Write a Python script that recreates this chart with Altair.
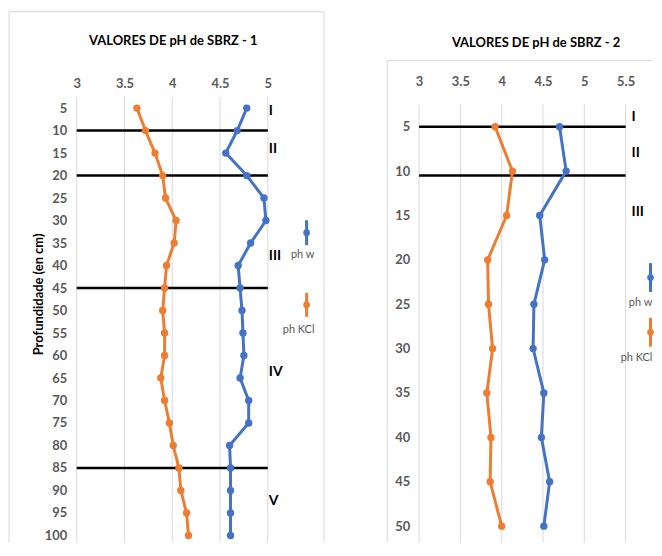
import altair as alt
import pandas as pd

FONT = "Lato"
GRAY = "#595959"
GRID = "#d9d9d9"

# ---------------- data ----------------
series = ["ph w", "ph KCl"]
colors = ["#4472C4", "#ED7D31"]

depth1 = [5, 10, 15, 20, 25, 30, 35, 40, 45, 50, 55, 60, 65, 70, 75, 80, 85, 90, 95, 100]
phw1 = [4.78, 4.68, 4.56, 4.78, 4.96, 4.98, 4.82, 4.69, 4.71, 4.73,
        4.74, 4.75, 4.71, 4.80, 4.80, 4.60, 4.61, 4.61, 4.61, 4.61]
phk1 = [3.63, 3.72, 3.82, 3.90, 3.93, 4.04, 4.02, 3.94, 3.92, 3.90,
        3.92, 3.92, 3.88, 3.92, 3.97, 4.01, 4.07, 4.09, 4.15, 4.17]

depth2 = [5, 10, 15, 20, 25, 30, 35, 40, 45, 50]
phw2 = [4.70, 4.78, 4.46, 4.52, 4.39, 4.38, 4.51, 4.48, 4.58, 4.51]
phk2 = [3.92, 4.13, 4.06, 3.83, 3.84, 3.89, 3.82, 3.87, 3.86, 4.00]

limits1 = [10, 20, 45, 85]
limits2 = [5, 10.5]

horizons1 = ["I", "II", "III", "IV", "V"]
horizon_depth1 = [5.75, 14.2, 37.8, 63.6, 92.3]
horizons2 = ["I", "II", "III"]
horizon_depth2 = [3.9, 8.0, 14.6]

xticks1 = [3, 3.5, 4, 4.5, 5]
xticks2 = [3, 3.5, 4, 4.5, 5, 5.5]

title1 = "VALORES DE pH de SBRZ - 1"
title2 = "VALORES DE pH de SBRZ - 2"
ytitle1 = "Profundidade (en cm)"


def long_df(depth, w, k):
    rows = []
    for d, v in zip(depth, w):
        rows.append({"depth": d, "pH": v, "serie": series[0]})
    for d, v in zip(depth, k):
        rows.append({"depth": d, "pH": v, "serie": series[1]})
    return pd.DataFrame(rows)


def panel(depth, w, k, limits, hz, hzd, xticks, xdom, ydom, gtop, gbot,
          W, H, title, title_xy, ytitle, label_pad_x, label_pad_y,
          frame, hz_dx, legend):
    df = long_df(depth, w, k)
    xs = alt.Scale(domain=xdom, nice=False, zero=False)
    ys = alt.Scale(domain=ydom, reverse=True, nice=False, zero=False)
    cs = alt.Scale(domain=series, range=colors)

    xaxis = alt.Axis(orient="top", values=xticks, format="~g", grid=False,
                     domain=False, ticks=False, labelFont=FONT, labelFontSize=13,
                     labelFontWeight="bold", labelColor=GRAY, labelFlush=False,
                     labelPadding=label_pad_x, title=None)
    yaxis_kw = dict(values=depth, grid=False, domain=False, ticks=False,
                    labelFont=FONT, labelFontSize=13, labelFontWeight="bold",
                    labelColor=GRAY, labelPadding=label_pad_y, labelFlush=False)
    if ytitle:
        yaxis = alt.Axis(title=ytitle, titleFont=FONT, titleFontSize=13,
                         titleFontWeight="bold", titleColor="black",
                         titleX=-38, titleY=198, titleAngle=-90,
                         titleBaseline="middle", titleAlign="center", **yaxis_kw)
    else:
        yaxis = alt.Axis(title=None, **yaxis_kw)

    grid = alt.Chart(pd.DataFrame({"g": xticks, "gy0": gtop, "gy1": gbot})).mark_rule(
        color=GRID, strokeWidth=1).encode(
        x=alt.X("g:Q", scale=xs, axis=xaxis),
        y=alt.Y("gy0:Q", scale=ys, axis=yaxis),
        y2="gy1:Q",
    )

    lim = alt.Chart(pd.DataFrame({"lim": limits, "lx0": xdom[0], "lx1": xdom[1]})).mark_rule(
        color="black", strokeWidth=2.5).encode(
        y=alt.Y("lim:Q", scale=ys, axis=yaxis),
        x=alt.X("lx0:Q", scale=xs, axis=xaxis),
        x2="lx1:Q",
    )

    line = alt.Chart(df).mark_line(strokeWidth=3).encode(
        x=alt.X("pH:Q", scale=xs, axis=xaxis),
        y=alt.Y("depth:Q", scale=ys, axis=yaxis),
        color=alt.Color("serie:N", scale=cs, legend=None),
        order=alt.Order("depth:Q"),
    )
    pts = alt.Chart(df).mark_circle(size=55, opacity=1).encode(
        x=alt.X("pH:Q", scale=xs, axis=xaxis),
        y=alt.Y("depth:Q", scale=ys, axis=yaxis),
        color=alt.Color("serie:N", scale=cs, legend=None),
    )

    hzt = alt.Chart(pd.DataFrame({"h": hz, "d": hzd, "hx": xdom[1]})).mark_text(
        align="left", baseline="middle", font=FONT, fontSize=14,
        fontWeight="bold", color="black", dx=hz_dx).encode(
        x=alt.X("hx:Q", scale=xs, axis=xaxis),
        y=alt.Y("d:Q", scale=ys, axis=yaxis),
        text="h:N",
    )

    one = pd.DataFrame({"a": [0]})
    ttl = alt.Chart(one).mark_text(
        font=FONT, fontSize=13, fontWeight="bold", color="black",
        align="center", baseline="middle").encode(
        x=alt.value(title_xy[0]), y=alt.value(title_xy[1]), text=alt.value(title))

    fx0, fy0, fx1, fy1, right_side = frame
    fr = [
        alt.Chart(one).mark_rule(color=GRID, strokeWidth=1).encode(
            x=alt.value(fx0), y=alt.value(fy0), y2=alt.value(fy1)),
        alt.Chart(one).mark_rule(color=GRID, strokeWidth=1).encode(
            x=alt.value(fx0), x2=alt.value(fx1), y=alt.value(fy0)),
    ]
    if right_side:
        fr.append(alt.Chart(one).mark_rule(color=GRID, strokeWidth=1).encode(
            x=alt.value(fx1), y=alt.value(fy0), y2=alt.value(fy1)))

    leg = []
    for name, col, (mx, r0, r1, lx, ly) in zip(series, colors, legend):
        leg.append(alt.Chart(one).mark_rule(color=col, strokeWidth=3).encode(
            x=alt.value(mx), y=alt.value(r0), y2=alt.value(r1)))
        leg.append(alt.Chart(one).mark_circle(color=col, size=45, opacity=1).encode(
            x=alt.value(mx), y=alt.value((r0 + r1) / 2)))
        leg.append(alt.Chart(one).mark_text(
            font=FONT, fontSize=11, color=GRAY, align="center",
            baseline="middle").encode(
            x=alt.value(lx), y=alt.value(ly), text=alt.value(name)))

    return alt.layer(grid, lim, line, pts, hzt, ttl, *fr, *leg).properties(
        width=W, height=H)


PLOT_H = 448
px1 = 4.52
left = panel(
    depth1, phw1, phk1, limits1, horizons1, horizon_depth1, xticks1,
    [3, 5], [2.5, 2.5 + PLOT_H / px1], 2.5, 2.5 + PLOT_H / px1, 192, PLOT_H,
    title1, (97, -56), ytitle1,
    6, 10, (-68, -85.5, 248.5, PLOT_H, True), 1,
    [(231, 124, 149, 227, 159), (231, 197, 221, 223, 234)])

px2 = 8.918
y2_top = 5 - 30 / px2
y2_bot = y2_top + PLOT_H / px2
right = panel(
    depth2, phw2, phk2, limits2, horizons2, horizon_depth2, xticks2,
    [3, 5.5], [y2_top, y2_bot], 2.5, y2_bot, 207.5, PLOT_H, title2,
    (117.5, -54), None, 8, 9.5, (-32, -36.5, 234, PLOT_H, False), 6,
    [(232.5, 167, 196, 222.5, 207), (232.5, 222, 251, 218.5, 262)])

chart = alt.hconcat(left, right, spacing=62).properties(
    padding={"left": 0, "top": 2, "right": 0, "bottom": 0}
).configure_view(stroke=None)

chart.save("out.html", embed_options={"renderer": "svg", "actions": False})
